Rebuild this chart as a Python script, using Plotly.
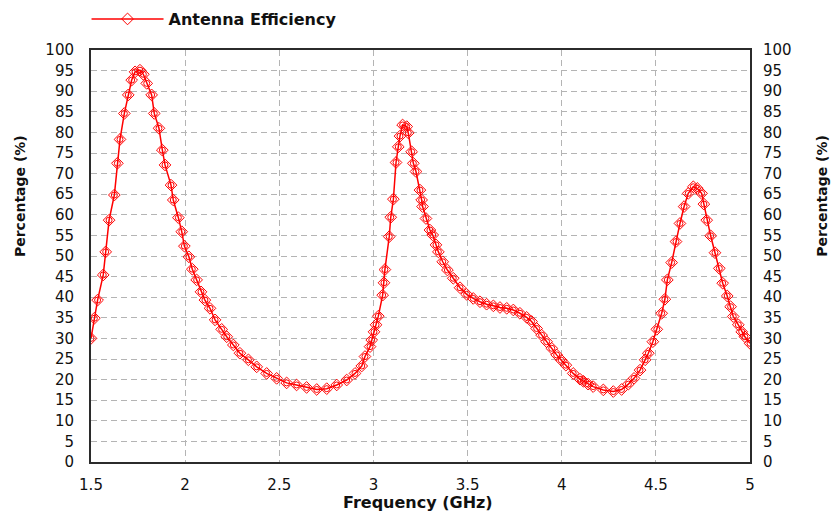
import plotly.graph_objects as go

freq_ghz = [
    1.500, 1.518, 1.535, 1.565, 1.578, 1.596, 1.624, 1.640, 1.654, 1.677,
    1.698, 1.716, 1.734, 1.760, 1.778, 1.796, 1.822, 1.836, 1.861, 1.879,
    1.893, 1.925, 1.937, 1.964, 1.982, 1.996, 2.020, 2.038, 2.061, 2.084,
    2.105, 2.132, 2.159, 2.194, 2.221, 2.256, 2.291, 2.336, 2.380, 2.433,
    2.486, 2.539, 2.592, 2.645, 2.699, 2.752, 2.805, 2.858, 2.902, 2.938,
    2.955, 2.982, 2.991, 3.003, 3.014, 3.026, 3.049, 3.056, 3.061, 3.084,
    3.092, 3.106, 3.120, 3.132, 3.141, 3.155, 3.177, 3.185, 3.203, 3.212,
    3.226, 3.247, 3.256, 3.261, 3.279, 3.300, 3.315, 3.332, 3.345, 3.368,
    3.393, 3.424, 3.460, 3.495, 3.530, 3.566, 3.601, 3.637, 3.672, 3.708,
    3.743, 3.778, 3.814, 3.840, 3.867, 3.893, 3.920, 3.947, 3.973, 3.998,
    4.022, 4.061, 4.097, 4.115, 4.140, 4.167, 4.221, 4.274, 4.318, 4.354,
    4.384, 4.416, 4.443, 4.460, 4.484, 4.505, 4.531, 4.548, 4.561, 4.584,
    4.607, 4.628, 4.650, 4.672, 4.699, 4.720, 4.743, 4.755, 4.770, 4.791,
    4.814, 4.837, 4.855, 4.879, 4.897, 4.911, 4.938, 4.956, 4.973, 5.000,
]
efficiency_pct = [
    30.0, 34.9, 39.3, 45.4, 51.0, 58.7, 64.8, 72.5, 78.3, 84.6,
    89.1, 92.7, 94.7, 95.1, 94.1, 91.9, 89.1, 84.6, 81.0, 75.7,
    72.1, 67.2, 63.6, 59.3, 55.9, 52.4, 49.8, 46.8, 44.2, 41.3,
    39.3, 37.3, 34.5, 32.2, 30.4, 28.4, 26.4, 24.8, 23.1, 21.5,
    20.3, 19.2, 18.7, 18.1, 17.6, 17.8, 18.7, 19.9, 21.5, 23.3,
    25.6, 28.0, 29.6, 31.6, 33.3, 35.4, 40.5, 43.5, 46.7, 54.7,
    59.4, 63.8, 72.7, 76.5, 79.1, 81.8, 81.4, 79.9, 75.3, 72.5,
    70.5, 66.0, 63.6, 62.0, 59.1, 56.3, 55.1, 52.7, 51.0, 48.6,
    46.6, 44.6, 42.3, 40.7, 39.7, 38.9, 38.3, 37.9, 37.5, 37.3,
    36.9, 36.1, 35.1, 34.1, 32.4, 30.8, 29.2, 27.6, 26.0, 24.7,
    23.5, 21.5, 20.1, 19.6, 18.9, 18.3, 17.5, 17.1, 17.6, 18.9,
    20.3, 22.3, 24.8, 26.4, 29.2, 32.2, 36.1, 39.5, 44.2, 48.4,
    53.5, 57.9, 62.0, 65.2, 66.8, 66.4, 65.2, 62.6, 58.7, 54.9,
    50.8, 47.0, 43.4, 40.3, 37.7, 35.3, 33.3, 31.6, 30.4, 28.8,
]

series_name = "Antenna Efficiency"
x_title = "Frequency (GHz)"
y_title = "Percentage (%)"

RED = "#ff0000"
AXIS = "#2b2b2b"
GRID = "#b4b4b4"
FONT = "DejaVu Sans"

fig = go.Figure()
fig.add_trace(go.Scatter(
    x=freq_ghz, y=efficiency_pct, name=series_name, mode="lines+markers",
    line=dict(color=RED, width=1.5),
    marker=dict(symbol="diamond-open", size=9, color=RED, line=dict(width=1, color=RED)),
))
fig.add_trace(go.Scatter(
    x=freq_ghz, y=efficiency_pct, mode="markers", showlegend=False, hoverinfo="skip",
    marker=dict(symbol="circle-open", size=6, color=RED, line=dict(width=1, color=RED)),
))

tick_font = dict(family=FONT, size=15, color="#111")
fig.update_layout(
    width=832, height=514,
    margin=dict(l=91, r=82, t=50, b=52, autoexpand=False),
    paper_bgcolor="white", plot_bgcolor="white",
    showlegend=True,
    legend=dict(x=0.104, y=0.963, xref="container", yref="container",
                xanchor="left", yanchor="middle",
                font=dict(family=FONT, size=16, color="#111", weight="bold"),
                bgcolor="rgba(0,0,0,0)", itemwidth=72),
    xaxis=dict(range=[1.5, 5], dtick=0.5, tick0=1.5, showgrid=True, gridcolor=GRID,
               griddash="6px,4px", gridwidth=1, showline=True, linecolor=AXIS, linewidth=2,
               mirror=True, ticks="", tickfont=tick_font, ticklabelstandoff=8, zeroline=False),
    yaxis=dict(range=[0, 100], dtick=5, showgrid=True, gridcolor=GRID, griddash="6px,4px",
               gridwidth=1, showline=True, linecolor=AXIS, linewidth=2, mirror=True,
               ticks="", tickfont=tick_font, ticklabelstandoff=12, zeroline=False),
    yaxis2=dict(range=[0, 100], dtick=5, overlaying="y", side="right", showgrid=False,
                showline=False, ticks="", tickfont=tick_font, ticklabelstandoff=12,
                zeroline=False),
    annotations=[
        dict(text=x_title, x=0.496, y=-0.0995, xref="paper", yref="paper",
             xanchor="center", yanchor="middle", showarrow=False,
             font=dict(family=FONT, size=16, color="#111", weight="bold")),
        dict(text=y_title, x=-0.1077, y=0.6456, xref="paper", yref="paper", textangle=-90,
             xanchor="center", yanchor="middle", showarrow=False,
             font=dict(family=FONT, size=14, color="#111", weight="bold")),
        dict(text=y_title, x=1.109, y=0.6456, xref="paper", yref="paper", textangle=-90,
             xanchor="center", yanchor="middle", showarrow=False,
             font=dict(family=FONT, size=14, color="#111", weight="bold")),
    ],
)
# keep right axis visible even without its own trace
fig.add_trace(go.Scatter(x=[None], y=[None], yaxis="y2", showlegend=False, hoverinfo="skip"))

fig.write_html("out.html")
